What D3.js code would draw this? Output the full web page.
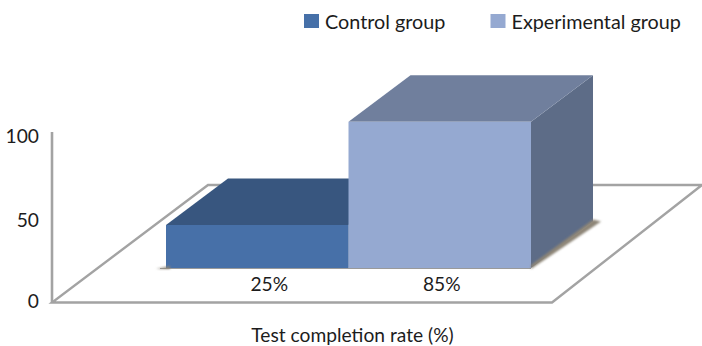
<!DOCTYPE html>
<html>
<head>
<meta charset="utf-8">
<script src="https://cdnjs.cloudflare.com/ajax/libs/d3/7.8.5/d3.min.js"></script>
<style>
  html, body { margin: 0; padding: 0; background: #fff; }
  text { font-family: Lato, "Open Sans", sans-serif; fill: #1c1c1c; }
</style>
</head>
<body>
<div id="chart"></div>
<script>
const groups = ["Control group", "Experimental group"];
const values = [25, 85];
const valueLabels = ["25%", "85%"];
const yTicks = [0, 50, 100];
const xTitle = "Test completion rate (%)";

const width = 702, height = 346;
const floorY = 302.5, floorBackY = 185;
const barBase = 268;
const depthX = 62, depthY = 46.5;
const fontSize = 19.2;
const legendFontSize = 19.8;

const frontColors = ["#4670a8", "#95a9d1"];
const topColors = ["#37567f", "#707f9d"];
const sideColors = ["#2f4a6e", "#5d6c87"];

const svg = d3.select("#chart").append("svg")
  .attr("width", width)
  .attr("height", height)
  .style("display", "block");

const defs = svg.append("defs");
defs.append("filter").attr("id", "soft")
  .append("feGaussianBlur").attr("stdDeviation", 0.45);
defs.append("filter").attr("id", "shadow")
  .append("feGaussianBlur").attr("stdDeviation", 1.2);

const x = d3.scaleBand().domain(groups).range([166, 531]);
const y = d3.scaleLinear().domain([0, 100]).range([172, 0]);
// tick labels in the picture are not evenly spaced
const yAxisScale = d3.scaleLinear().domain(yTicks).range([301.7, 220.7, 136.7]);

const plot = svg.append("g").attr("filter", "url(#soft)");

// Floor
const floor = [[52, floorY], [552, floorY], [702, floorBackY], [208, floorBackY]];
plot.append("path")
  .attr("d", d3.line()(floor) + "Z")
  .attr("fill", "#fff")
  .attr("stroke", "#a3a3a3")
  .attr("stroke-width", 2.4);

// Y axis wall line
plot.append("line")
  .attr("x1", 52).attr("x2", 52)
  .attr("y1", 132).attr("y2", floorY)
  .attr("stroke", "#a3a3a3")
  .attr("stroke-width", 2.6);

// Shadows on the floor
const shadow = svg.append("g").attr("filter", "url(#shadow)").attr("fill", "#8d8577");
shadow.append("path")
  .attr("d", d3.line()([[156, barBase + 1], [170, barBase - 2], [170, barBase + 1]]) + "Z");
shadow.append("path")
  .attr("d", d3.line()([
    [x(groups[1]) + x.bandwidth(), barBase + 1],
    [x(groups[1]) + x.bandwidth() + depthX + 8, barBase - depthY],
    [x(groups[1]) + x.bandwidth() + depthX, barBase - depthY - 2],
    [x(groups[1]) + x.bandwidth(), barBase - 3]
  ]) + "Z");
plot.append("line")
  .attr("x1", 160).attr("x2", 531)
  .attr("y1", barBase + 0.5).attr("y2", barBase + 0.5)
  .attr("stroke", "#9a9a9a").attr("stroke-width", 1);

const labelOffset = [12, 2];

// Bars, drawn left to right so the taller one sits on top
groups.forEach((g, i) => {
  const x0 = x(g), x1 = x0 + x.bandwidth();
  const top = barBase - y(0) + y(values[i]);
  const bar = plot.append("g");

  bar.append("path")
    .attr("d", d3.line()([[x1, barBase], [x1 + depthX, barBase - depthY], [x1 + depthX, top - depthY], [x1, top]]) + "Z")
    .attr("fill", sideColors[i]);
  bar.append("path")
    .attr("d", d3.line()([[x0, top], [x1, top], [x1 + depthX, top - depthY], [x0 + depthX, top - depthY]]) + "Z")
    .attr("fill", topColors[i]);
  bar.append("rect")
    .attr("x", x0).attr("y", top)
    .attr("width", x.bandwidth())
    .attr("height", barBase - top)
    .attr("fill", frontColors[i]);

  svg.append("text")
    .attr("x", x0 + x.bandwidth() / 2 + labelOffset[i])
    .attr("y", 291)
    .attr("text-anchor", "middle")
    .attr("font-size", fontSize)
    .text(valueLabels[i]);
});

// Y tick labels
const yAxisG = svg.append("g")
  .attr("transform", "translate(39,0)")
  .call(d3.axisLeft(yAxisScale).tickValues(yTicks).tickSize(0).tickPadding(0));
yAxisG.select(".domain").remove();
yAxisG.selectAll("text")
  .style("font-family", 'Lato, "Open Sans", sans-serif')
  .style("font-size", fontSize + "px")
  .style("fill", "#1c1c1c");

// Axis title
svg.append("text")
  .attr("x", 352.5)
  .attr("y", 342)
  .attr("text-anchor", "middle")
  .attr("font-size", fontSize)
  .text(xTitle);

// Legend
const legendX = [304, 490.5];
const legend = svg.selectAll(".legend")
  .data(groups)
  .enter().append("g")
  .attr("class", "legend")
  .attr("transform", (d, i) => `translate(${legendX[i]},14)`);

legend.append("rect")
  .attr("width", 15)
  .attr("height", 14)
  .attr("fill", (d, i) => frontColors[i]);

legend.append("text")
  .attr("x", 21)
  .attr("y", 15)
  .attr("font-size", legendFontSize)
  .text(d => d);
</script>
</body>
</html>
